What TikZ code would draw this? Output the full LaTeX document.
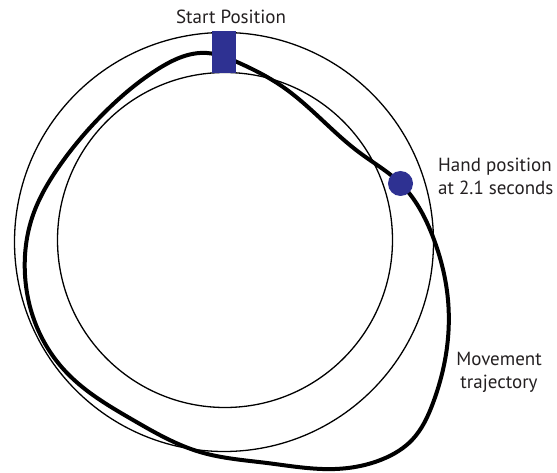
\documentclass[tikz,border=0pt]{standalone}
\usepackage{fontspec}
\setmainfont{PT Sans}
\usetikzlibrary{hobby}
\definecolor{markblue}{RGB}{46,49,146}
\definecolor{ink}{RGB}{35,31,32}
\tikzset{
  ring/.style={draw=black, line width=1.3pt},
  traj/.style={draw=black, line width=4pt, line join=round},
  lbl/.style={text=ink, font=\fontsize{19}{23}\selectfont, inner sep=0pt},
  startbox/.style={fill=markblue, draw=none, minimum width=24pt, minimum height=42pt, inner sep=0pt},
  handdot/.style={circle, fill=markblue, draw=none, minimum size=25pt, inner sep=0pt}
}
\begin{document}
\begin{tikzpicture}[x=1pt, y=-1pt]
\useasboundingbox (0,0) rectangle (557,473);
% circles
\draw[ring] (224,242) circle[radius=209.5];
\draw[ring] (225,240) circle[radius=167.5];
% trajectory
\coordinate (t0) at (237,62);
\coordinate (tz) at (207,53);
\draw[traj] (t0) to[closed, curve through={(283,87) (360,153) (400,183)
 (433,237) (448,300) (445,360) (433,403) (412,440)
 (383,459) (335,469) (267,463) (200,452) (133,420)
 (67,373) (36,325) (25,275) (33,215)
 (58,168) (105,112) (158,69)}] (tz);
% markers
\node[startbox] (start) at (224,52) {};
\node[handdot] (hand) at (400.5,183.5) {};
% labels
\node[lbl] (startlbl) at (231,17) {Start Position};
\node[lbl, align=left, anchor=west] (handlbl) at (438,176) {Hand position\\at 2.1 seconds};
\node[lbl, align=center] (movlbl) at (499,372) {Movement\\trajectory};
\end{tikzpicture}
\end{document}
